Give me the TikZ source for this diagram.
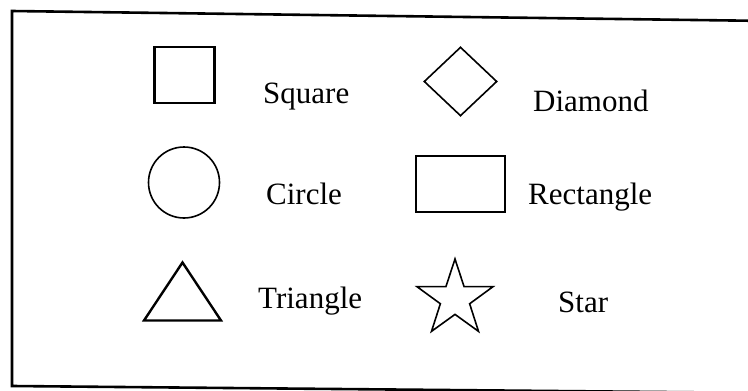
\documentclass[tikz,border=0pt]{standalone}
\usepackage{fontspec}
\setmainfont{Liberation Serif}
\usetikzlibrary{shapes.geometric}

\begin{document}
\begin{tikzpicture}[
    x=1pt, y=-1pt,
    shapebox/.style={draw, inner sep=0pt, line width=1.6pt},
    thickbox/.style={shapebox, line width=2.6pt},
    lbl/.style={anchor=base west, inner sep=0pt, font=\fontsize{31}{36}\selectfont}
]
\useasboundingbox (0,0) rectangle (748,391);
% frame (right side runs off the page)
\coordinate (ftl) at (12,11);
\coordinate (ftr) at (770,21);
\coordinate (fbl) at (12,386);
\coordinate (fbr) at (770,393);
\draw[line width=2.6pt] (ftr) -- (ftl) -- (fbl) -- (fbr);

\node[thickbox, minimum width=60pt, minimum height=56pt] (square) at (184.5,75) {};
\node[lbl] (squaretxt) at (263,103) {Square};

\node[shapebox, diamond, minimum width=73pt, minimum height=69pt] (diamond) at (460.5,81.5) {};
\node[lbl] (diamondtxt) at (533,111) {Diamond};

\node[shapebox, circle, minimum size=71pt] (circ) at (184,182.5) {};
\node[lbl] (circtxt) at (266,204) {Circle};

\node[thickbox, minimum width=89pt, minimum height=56pt] (rect) at (460.5,184) {};
\node[lbl] (recttxt) at (528,204) {Rectangle};

\coordinate (tri) at (182.5,291.5);
\draw[line width=2.4pt, line join=miter] (tri) ++(0,-29) -- ++(38.5,58) -- ++(-77,0) -- cycle;
\node[lbl] (tritxt) at (258,308) {Triangle};

\node[shapebox, star, star points=5, star point ratio=2.6, minimum size=80pt] (star) at (455,299) {};
\node[lbl] (startxt) at (558,312) {Star};
\end{tikzpicture}
\end{document}
